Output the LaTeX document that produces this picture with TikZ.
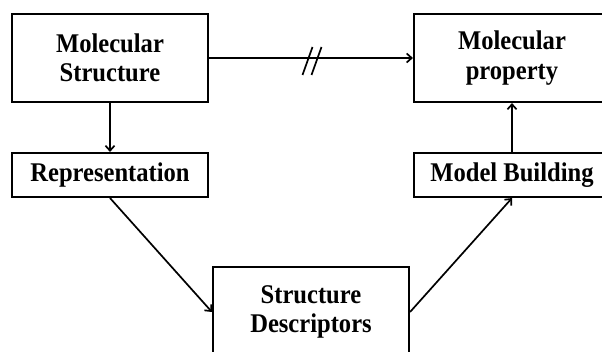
\documentclass[tikz,border=0pt]{standalone}
\usepackage{fontspec}
\setmainfont{Liberation Serif}[FakeStretch=0.91]
\usetikzlibrary{arrows.meta}
\begin{document}
\begin{tikzpicture}[x=1pt,y=-1pt,
  box/.style={draw=black,line width=2.1pt,fill=white,align=center,inner sep=0pt,
    font=\fontsize{27}{29.5}\selectfont\bfseries,minimum width=196pt},
  conn/.style={line width=1.7pt,-{Straight Barb[length=5pt,width=9pt,line width=1.7pt]}}]
\useasboundingbox (0,0) rectangle (602,352);
\clip (0,0) rectangle (602,352);
\node[box,minimum height=88pt] (ms) at (110,58) {Molecular\\Structure};
\node[box,minimum height=88pt] (mp) at (512,58) {Molecular\\property};
\node[box,minimum height=44pt] (rep) at (110,175) {Representation};
\node[box,minimum height=44pt] (mb) at (512,175) {Model Building};
\node[box,minimum height=90pt] (sd) at (311,312) {Structure\\Descriptors};
\draw[conn] (ms.east) -- (mp.west);
\draw[conn] (ms.south) -- (rep.north);
\draw[conn] (rep.south) -- (sd.west);
\draw[conn] (sd.east) -- (mb.south);
\draw[conn] (mb.north) -- (mp.south);
\coordinate (s1) at (307.5,61);
\coordinate (s2) at (316.5,61);
\draw[line width=1.7pt] ([shift={(-5,14)}]s1) -- ([shift={(5,-14)}]s1);
\draw[line width=1.7pt] ([shift={(-5,14)}]s2) -- ([shift={(5,-14)}]s2);
\end{tikzpicture}
\end{document}
